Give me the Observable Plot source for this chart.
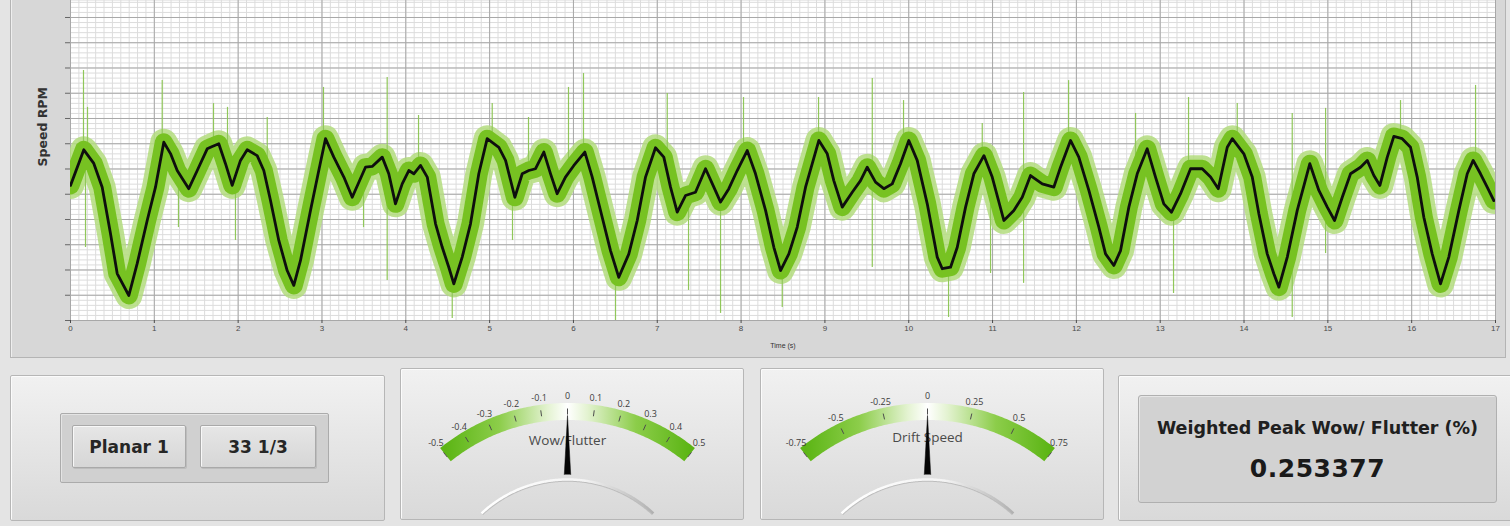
<!DOCTYPE html>
<html><head><meta charset="utf-8">
<script src="https://cdn.jsdelivr.net/npm/d3@7"></script>
<script src="https://cdn.jsdelivr.net/npm/@observablehq/plot@0.6"></script>
<style>
body{margin:0;background:#e0e0e0;}
#root{position:relative;width:1510px;height:526px;overflow:hidden;background:#e4e4e4;font-family:"Open Sans",sans-serif;}
.abs{position:absolute;box-sizing:border-box;}
.panel{border:1px solid #b6b6b6;border-radius:2px;background:linear-gradient(#f1f1f1,#d9d9d9);box-shadow:inset 1px 1px 0 #fbfbfb;}
.btn{border:1px solid #a9a9a9;border-radius:2px;background:linear-gradient(#e6e6e6,#d6d6d6);box-shadow:inset 1px 1px 0 #f8f8f8, 1px 1px 0 #bdbdbd;display:flex;align-items:center;justify-content:center;font-family:"DejaVu Sans",sans-serif;font-weight:bold;font-size:17px;color:#262626;}
</style>
</head><body><div id="root"></div>
<script>
// ---- data ----
const time = [0.000,0.159,0.278,0.378,0.477,0.557,0.696,0.796,0.915,1.014,1.113,1.193,1.273,1.411,1.512,1.631,1.691,1.769,1.849,1.929,2.028,2.108,2.227,2.306,2.386,2.485,2.585,2.664,2.744,2.863,2.962,3.042,3.141,3.261,3.361,3.519,3.599,3.719,3.797,3.877,3.957,4.036,4.096,4.176,4.256,4.355,4.435,4.513,4.573,4.673,4.772,4.871,4.971,5.110,5.190,5.301,5.389,5.468,5.548,5.647,5.727,5.806,5.905,6.005,6.136,6.224,6.343,6.442,6.541,6.661,6.761,6.860,6.979,7.078,7.158,7.238,7.337,7.456,7.576,7.675,7.755,7.854,7.954,8.073,8.172,8.292,8.391,8.471,8.570,8.670,8.769,8.928,9.028,9.106,9.207,9.326,9.425,9.505,9.604,9.703,9.803,9.902,10.001,10.101,10.221,10.340,10.400,10.499,10.579,10.678,10.777,10.897,10.996,11.135,11.254,11.354,11.453,11.593,11.731,11.811,11.930,12.029,12.149,12.268,12.348,12.447,12.527,12.626,12.726,12.845,12.944,13.043,13.135,13.243,13.362,13.501,13.601,13.693,13.800,13.860,13.998,14.098,14.177,14.277,14.356,14.416,14.516,14.635,14.785,14.893,14.993,15.080,15.172,15.271,15.390,15.470,15.549,15.621,15.709,15.787,15.887,15.986,16.066,16.145,16.245,16.344,16.443,16.563,16.663,16.734,16.821,16.901,16.980];
const speed = [33.335,33.476,33.422,33.328,33.145,32.986,32.899,33.026,33.196,33.328,33.506,33.461,33.394,33.322,33.394,33.480,33.489,33.500,33.421,33.335,33.434,33.476,33.453,33.394,33.275,33.117,32.998,32.939,33.038,33.236,33.394,33.520,33.447,33.368,33.288,33.407,33.410,33.447,33.381,33.262,33.341,33.394,33.381,33.414,33.368,33.183,33.090,33.011,32.945,33.051,33.183,33.381,33.520,33.486,33.434,33.288,33.381,33.394,33.401,33.467,33.381,33.302,33.368,33.414,33.467,33.368,33.209,33.077,32.971,33.064,33.196,33.368,33.484,33.447,33.328,33.229,33.295,33.308,33.401,33.328,33.269,33.322,33.394,33.473,33.381,33.236,33.090,32.998,33.064,33.170,33.328,33.513,33.460,33.354,33.249,33.308,33.354,33.407,33.348,33.322,33.341,33.421,33.513,33.434,33.262,33.051,33.005,33.011,33.090,33.249,33.381,33.453,33.368,33.196,33.236,33.288,33.374,33.341,33.328,33.407,33.513,33.447,33.315,33.170,33.064,33.018,33.077,33.249,33.381,33.480,33.368,33.262,33.229,33.302,33.401,33.401,33.368,33.322,33.486,33.520,33.460,33.368,33.223,33.064,32.985,32.932,33.051,33.236,33.421,33.315,33.249,33.196,33.288,33.381,33.407,33.434,33.374,33.335,33.447,33.529,33.520,33.486,33.368,33.209,33.064,32.945,33.051,33.236,33.381,33.434,33.381,33.328,33.275];
const spikeTime = [0.155,0.203,1.094,1.706,1.873,2.347,3.018,3.778,4.152,5.031,5.464,5.941,6.120,7.119,8.029,8.924,9.565,9.938,10.877,11.370,11.907,12.706,13.338,13.919,14.575,14.973,15.867,16.762,0.179,1.288,1.968,3.496,3.778,4.554,5.273,6.502,7.373,7.755,8.491,9.565,10.475,10.976,11.370,13.159,14.575,14.973,16.253];
const spikeTip = [33.790,33.644,33.750,33.659,33.644,33.604,33.723,33.762,33.612,33.659,33.604,33.723,33.778,33.699,33.683,33.683,33.758,33.671,33.580,33.703,33.750,33.620,33.683,33.659,33.620,33.640,33.671,33.731,33.089,33.168,33.117,33.168,32.958,32.808,33.117,32.800,32.919,32.828,32.851,33.010,32.812,32.986,32.947,32.907,32.812,33.065,33.168];
const xTicks = [0,1,2,3,4,5,6,7,8,9,10,11,12,13,14,15,16,17];
const yTicks = [32.8,32.9,33.0,33.1,33.2,33.3,33.4,33.5,33.6,33.7,33.8,33.9,34.0];
const wowTicks = [-0.5,-0.4,-0.3,-0.2,-0.1,0,0.1,0.2,0.3,0.4,0.5];
const wowValue = 0;
const driftTicks = [-0.75,-0.5,-0.25,0,0.25,0.5,0.75];
const driftValue = 0;
const buttonLabels = ["Planar 1", "33 1/3"];
const readoutTitle = "Weighted Peak Wow/ Flutter (%)";
const readoutValue = "0.253377";

// ---- layout ----
const root = document.getElementById("root");
function box(cls, l, t, w, h, extra) {
  const d = document.createElement("div");
  d.className = "abs " + cls;
  Object.assign(d.style, {left: l + "px", top: t + "px", width: w + "px", height: h + "px"}, extra || {});
  root.appendChild(d);
  return d;
}
box("", 10, -4, 1496, 362, {background:"#d7d7d7", border:"1px solid #b4b4b4", boxShadow:"inset 1px 0 0 #eeeeee"});

// ---- main chart ----
const yMin = 32.80, yMax = 34.0673;
const data = time.map((t, i) => ({t, v: speed[i]}));
const nearest = t => data[d3.minIndex(data, d => Math.abs(d.t - t))].v;
const spikes = spikeTime.map((t, i) => ({t, tip: spikeTip[i], base: nearest(t)}));
const minorX = d3.range(0, 171).map(i => i / 10);
const minorY = d3.range(0, 64).map(i => +(yMin + i * 0.02).toFixed(2));

const chart = Plot.plot({
  width: 1510, height: 358,
  marginLeft: 70, marginRight: 15, marginTop: 0, marginBottom: 38,
  x: {domain: [0, 17]},
  y: {domain: [yMin, yMax]},
  style: {background: "transparent", fontFamily: "'Liberation Sans', Arial, sans-serif", overflow: "visible"},
  marks: [
    Plot.frame({fill: "#ffffff", stroke: "none"}),
    Plot.ruleY(minorY, {stroke: "#dcdcdc", strokeWidth: 1}),
    Plot.ruleX(minorX, {stroke: "#dcdcdc", strokeWidth: 1}),
    Plot.ruleY(yTicks, {stroke: "#a8a8a8", strokeWidth: 1}),
    Plot.ruleX(xTicks, {stroke: "#a8a8a8", strokeWidth: 1}),
    Plot.line(data, {x: "t", y: "v", stroke: "#b3dc7e", strokeOpacity: 0.85, strokeWidth: 27, strokeLinejoin: "round", clip: true}),
    Plot.ruleX(spikes, {x: "t", y1: "base", y2: "tip", stroke: "#90c75a", strokeWidth: 1.2, clip: true}),
    Plot.line(data, {x: "t", y: "v", stroke: "#77c222", strokeWidth: 18, strokeLinejoin: "round", clip: true}),
    Plot.line(data, {x: "t", y: "v", stroke: "#0e0e0e", strokeWidth: 2.8, strokeLinejoin: "round", clip: true}),
    Plot.axisX(xTicks, {tickSize: 3, tickPadding: 2, fontSize: 8, color: "#4a4a4a", label: null}),
    Plot.axisY(yTicks, {tickSize: 5, tickFormat: () => "", color: "#666", label: null}),
    Plot.text(["Speed RPM"], {frameAnchor: "left", dx: -28, dy: 6, rotate: -90, fontWeight: "bold", fontSize: 12.5, fontFamily: "'DejaVu Sans', sans-serif", fill: "#333"}),
    Plot.text(["Time (s)"], {frameAnchor: "bottom", dy: 27, fontSize: 7, fill: "#333"})
  ]
});
chart.style.position = "absolute"; chart.style.left = "0px"; chart.style.top = "0px";
root.appendChild(chart);

// ---- bottom panels ----
box("panel", 10, 375, 375, 146);
box("", 60, 413, 269, 70, {background:"#d0d0d0", border:"1px solid #ababab", borderRadius:"2px", boxShadow:"inset 1px 1px 0 #e4e4e4"});
box("btn", 72, 425, 114, 43).textContent = buttonLabels[0];
box("btn", 200, 425, 116, 43).textContent = buttonLabels[1];

box("panel", 400, 368, 344, 152);
box("panel", 760, 368, 344, 152);

box("panel", 1118, 375, 400, 146);
box("", 1138, 395, 359, 108, {background:"#d2d2d2", border:"1px solid #b0b0b0", borderRadius:"3px", boxShadow:"inset 1px 1px 0 #e6e6e6"});
box("", 1138, 414, 359, 28, {fontFamily:"'DejaVu Sans',sans-serif", fontWeight:"bold", fontSize:"17.5px", color:"#202020", textAlign:"center", lineHeight:"28px"}).textContent = readoutTitle;
box("", 1138, 451, 359, 36, {fontFamily:"'DejaVu Sans',sans-serif", fontWeight:"bold", fontSize:"25px", letterSpacing:"0.5px", color:"#1a1a1a", textAlign:"center", lineHeight:"36px"}).textContent = readoutValue;

// ---- gauges ----
let gid = 0;
function gauge(ticks, value, label, labelY, left, top) {
  const W = 344, H = 152, cx = 167, cy = 237, R = 194, span = 39;
  const ang = d3.scaleLinear().domain([ticks[0], ticks[ticks.length - 1]]).range([-span, span]);
  const pol = (deg, r) => ({x: cx + r * Math.sin(deg * Math.PI / 180), y: cy - r * Math.cos(deg * Math.PI / 180)});
  const arcPts = d3.range(-span, span + 0.25, 0.5).map(a => pol(a, R));
  const lowArc = d3.range(-43, 43.25, 0.5).map(a => pol(a, 126));
  const lowShade = d3.range(-43, 43.25, 0.5).map(a => pol(a, 124.5));
  const id = "gg" + (gid++);
  const svg = Plot.plot({
    width: W, height: H, margin: 0,
    x: {domain: [0, W], range: [0, W], axis: null},
    y: {domain: [0, H], range: [0, H], axis: null},
    style: {background: "transparent", fontFamily: "'Open Sans', sans-serif", overflow: "visible"},
    marks: [
      Plot.line(lowShade, {x: "x", y: "y", stroke: "#bdbdbd", strokeWidth: 1.5, strokeLinecap: "butt"}),
      Plot.line(lowArc, {x: "x", y: "y", stroke: `url(#${id}l)`, strokeWidth: 2.5, strokeLinecap: "butt"}),
      Plot.line(arcPts, {x: "x", y: "y", stroke: `url(#${id})`, strokeWidth: 17, strokeLinecap: "butt"}),
      Plot.link(ticks, {x1: d => pol(ang(d), 191).x, y1: d => pol(ang(d), 191).y, x2: d => pol(ang(d), 197).x, y2: d => pol(ang(d), 197).y, stroke: "#4d4d4d", strokeWidth: 1}),
      Plot.text(ticks, {x: d => pol(ang(d), 209).x, y: d => pol(ang(d), 209).y, text: d => String(d), fontSize: 9, fill: "#3c3c3c"}),
      Plot.text([label], {x: () => cx, y: () => labelY, fontSize: 13.5, fill: "#4a4a4a"}),
      Plot.vector([value], {x: () => cx, y: () => 106, length: 59, rotate: d => ang(d), shape: "spike", r: 3.2, anchor: "start", fill: "#050505", stroke: "#050505", strokeWidth: 0.5})
    ]
  });
  d3.select(svg).insert("defs", ":first-child").html(
    `<linearGradient id="${id}" x1="0" x2="1" y1="0" y2="0">
      <stop offset="0" stop-color="#5cb515"/><stop offset="0.22" stop-color="#8ccd4a"/>
      <stop offset="0.42" stop-color="#e4f3d2"/><stop offset="0.5" stop-color="#ffffff"/>
      <stop offset="0.58" stop-color="#e4f3d2"/><stop offset="0.78" stop-color="#8ccd4a"/>
      <stop offset="1" stop-color="#5cb515"/></linearGradient>
     <linearGradient id="${id}l" x1="0" x2="1" y1="0" y2="0">
      <stop offset="0" stop-color="#ffffff"/><stop offset="0.6" stop-color="#f4f4f4"/><stop offset="1" stop-color="#b0b0b0"/></linearGradient>`);
  svg.style.position = "absolute"; svg.style.left = left + "px"; svg.style.top = top + "px";
  root.appendChild(svg);
}
gauge(wowTicks, wowValue, "Wow/Flutter", 72, 400, 368);
gauge(driftTicks, driftValue, "Drift Speed", 69, 760, 368);
</script></body></html>
